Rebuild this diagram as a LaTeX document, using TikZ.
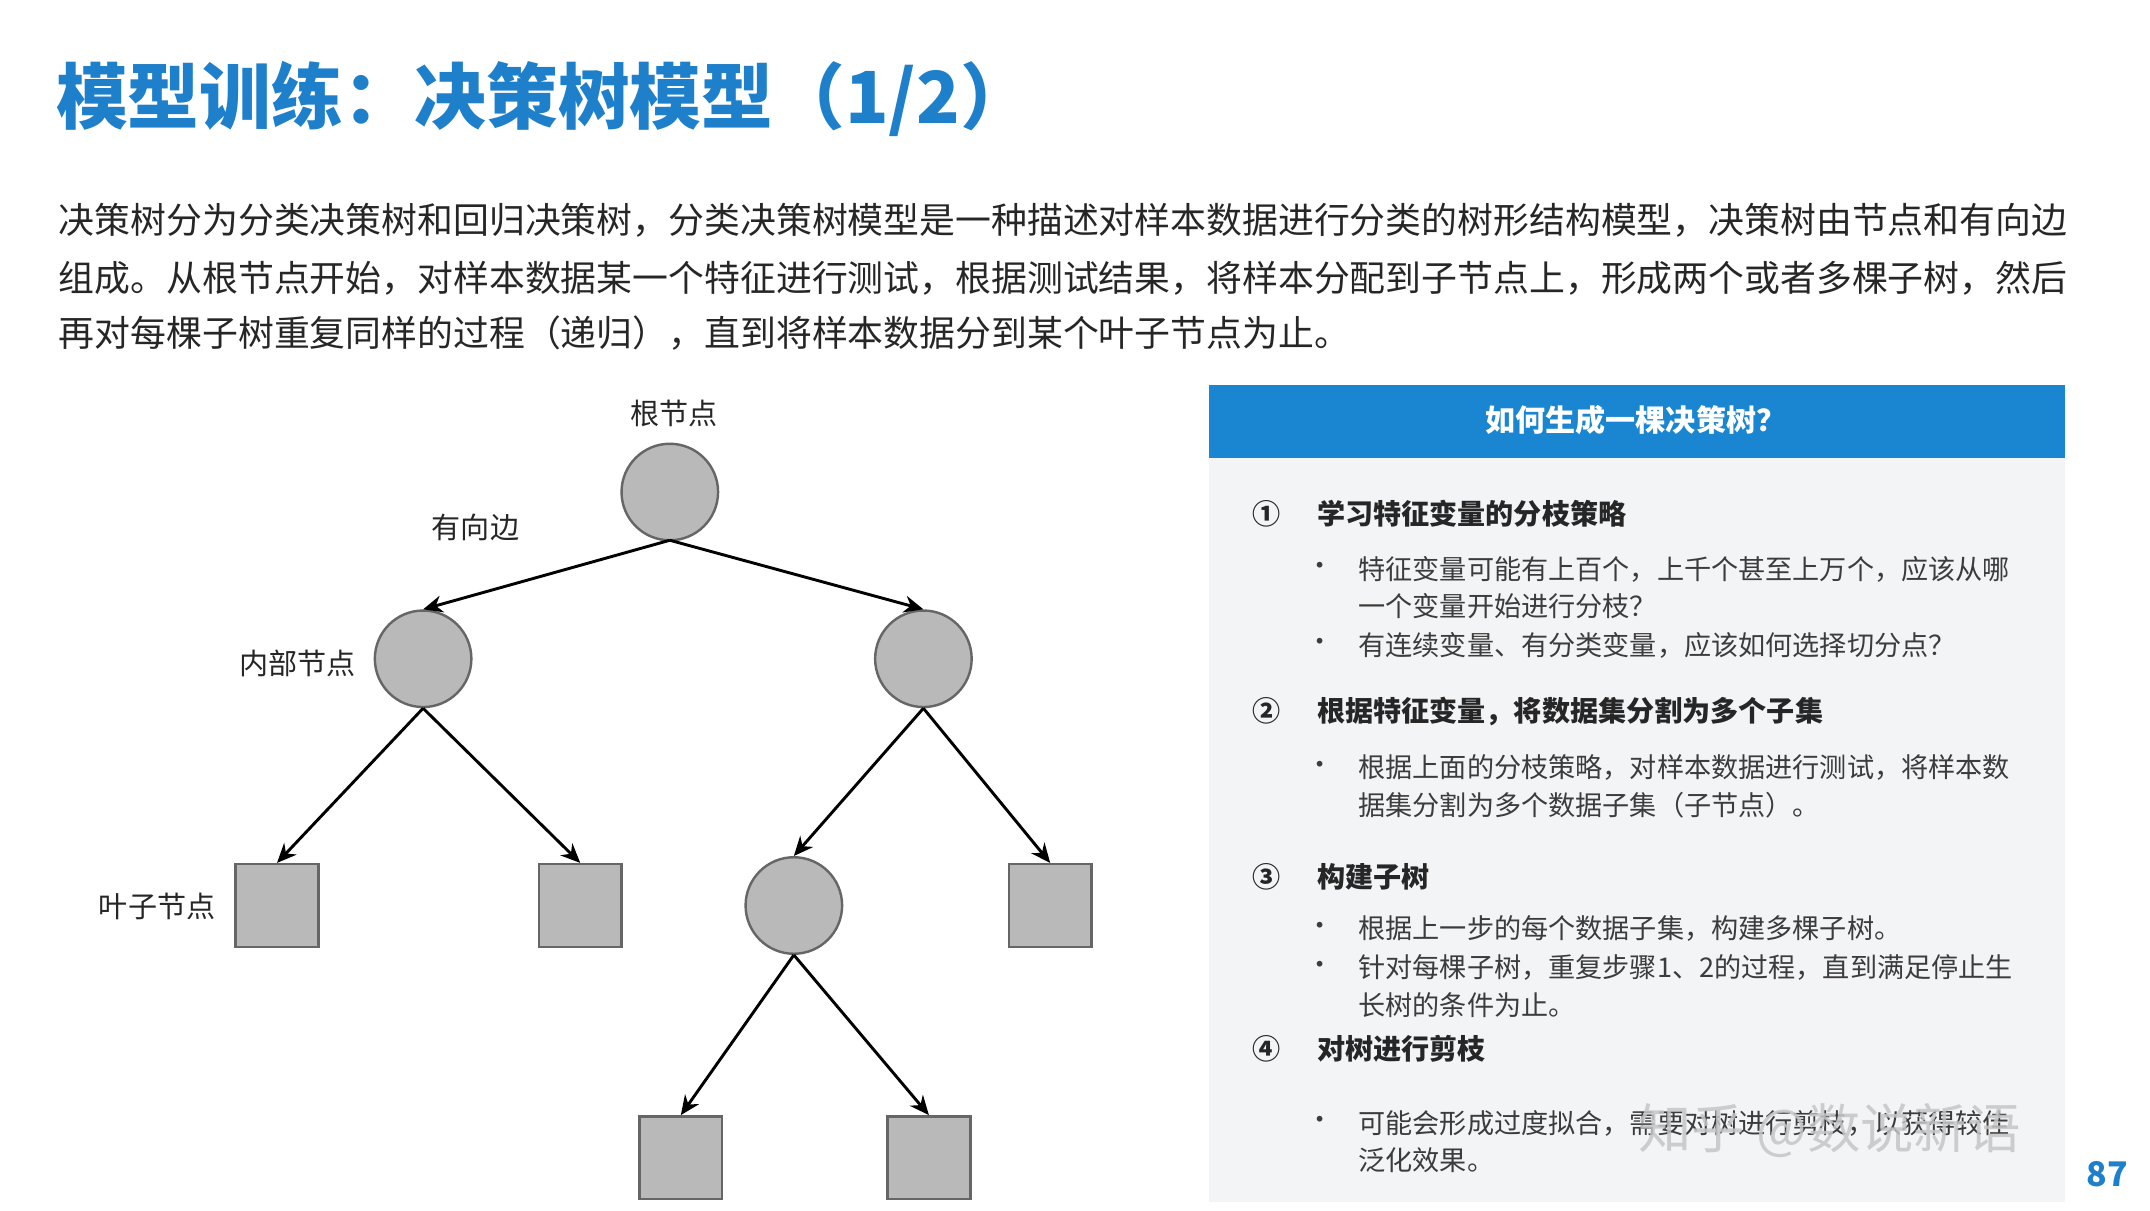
\documentclass[tikz,border=0pt]{standalone}
\usepackage{fontspec}
\setmainfont{Noto Sans CJK SC}
\usetikzlibrary{arrows.meta}
\definecolor{tblue}{HTML}{1E7FCB}
\definecolor{hblue}{HTML}{1A85D0}
\definecolor{panel}{HTML}{F3F4F6}
\definecolor{txt}{HTML}{262626}
\tikzset{
 circ/.style={circle,draw=gray!80!black,fill=gray!55,minimum size=0.7cm,inner sep=0pt,line width=0.5pt},
 sq/.style={rectangle,draw=gray!80!black,fill=gray!55,minimum size=0.6cm,inner sep=0pt,line width=0.5pt},
 edge/.style={-{Stealth[length=4pt,width=3.5pt]},line width=0.6pt,black},
 lab/.style={font=\fontsize{6pt}{7pt}\selectfont,text=txt,inner sep=0pt},
 para/.style={font=\fontsize{7.4pt}{9pt}\selectfont,text=txt,anchor=west,inner sep=0pt},
 head/.style={font=\fontsize{5.8pt}{7pt}\selectfont\bfseries,text=txt,anchor=west,inner sep=0pt},
 body/.style={font=\fontsize{5.6pt}{7pt}\selectfont,text=txt!90,anchor=west,inner sep=0pt},
}
\begin{document}
\begin{tikzpicture}[x=0.01cm,y=-0.01cm]
\useasboundingbox (0,0) rectangle (1560,878);
\fill[white] (0,0) rectangle (1560,878);
\node[anchor=west,inner sep=0pt,text=tblue,font=\fontsize{14.8pt}{16pt}\selectfont\bfseries] (title) at (40,72) {模型训练：决策树模型（1/2）};
\node[para] (p1) at (42,160) {决策树分为分类决策树和回归决策树，分类决策树模型是一种描述对样本数据进行分类的树形结构模型，决策树由节点和有向边};
\node[para] (p2) at (42,202) {组成。从根节点开始，对样本数据某一个特征进行测试，根据测试结果，将样本分配到子节点上，形成两个或者多棵子树，然后};
\node[para] (p3) at (42,242) {再对每棵子树重复同样的过程（递归），直到将样本数据分到某个叶子节点为止。};
% tree
\node[circ] (r) at (486,357) {};
\node[circ] (a) at (307,478) {};
\node[circ] (b) at (670,478) {};
\node[sq] (l1) at (201,657) {};
\node[sq] (l2) at (421,657) {};
\node[circ] (c) at (576,657) {};
\node[sq] (l3) at (762,657) {};
\node[sq] (l4) at (494,840) {};
\node[sq] (l5) at (674,840) {};
\coordinate (rb) at (486,392);
\draw[edge] (rb) -- (a.north);
\draw[edge] (rb) -- (b.north);
\draw[edge] (a.south) -- (l1.north);
\draw[edge] (a.south) -- (l2.north);
\draw[edge] (b.south) -- (c.north);
\draw[edge] (b.south) -- (l3.north);
\draw[edge] (c.south) -- (l4.north);
\draw[edge] (c.south) -- (l5.north);
\node[lab] (t1) at (489,300) {根节点};
\node[lab] (t2) at (345,383) {有向边};
\node[lab] (t3) at (216,481) {内部节点};
\node[lab] (t4) at (114,658) {叶子节点};
% panel
\fill[panel] (877,332) rectangle (1498,872);
\fill[hblue] (877,279) rectangle (1498,332);
\node[text=white,font=\fontsize{6.2pt}{7pt}\selectfont\bfseries] (ph) at (1187,305) {如何生成一棵决策树？};
\node[head] (n1) at (908,373) {①}; \node[head] (h1) at (955,373) {学习特征变量的分枝策略};
\node[body] at (947,413) {•}; \node[body] (b1) at (985,413) {特征变量可能有上百个，上千个甚至上万个，应该从哪};
\node[body] (b1b) at (985,440) {一个变量开始进行分枝？};
\node[body] at (947,468) {•}; \node[body] (b2) at (985,468) {有连续变量、有分类变量，应该如何选择切分点？};
\node[head] (n2) at (908,516) {②}; \node[head] (h2) at (955,516) {根据特征变量，将数据集分割为多个子集};
\node[body] at (947,557) {•}; \node[body] (b3) at (985,557) {根据上面的分枝策略，对样本数据进行测试，将样本数};
\node[body] (b3b) at (985,584) {据集分割为多个数据子集（子节点）。};
\node[head] (n3) at (908,636) {③}; \node[head] (h3) at (955,636) {构建子树};
\node[body] at (947,674) {•}; \node[body] (b4) at (985,674) {根据上一步的每个数据子集，构建多棵子树。};
\node[body] at (947,702) {•}; \node[body] (b5) at (985,702) {针对每棵子树，重复步骤1、2的过程，直到满足停止生};
\node[body] (b5b) at (985,729) {长树的条件为止。};
\node[head] (n4) at (908,761) {④}; \node[head] (h4) at (955,761) {对树进行剪枝};
\node[body] at (947,815) {•}; \node[body] (b6) at (985,815) {可能会形成过度拟合，需要对树进行剪枝，以获得较佳};
\node[body] (b6b) at (985,842) {泛化效果。};
\node[anchor=west,inner sep=0pt,text=gray!45,opacity=0.85,font=\fontsize{11pt}{12pt}\selectfont] (wm) at (1188,820) {知乎 @数说新语};
\node[text=tblue,font=\fontsize{7pt}{8pt}\selectfont\bfseries,inner sep=0pt] (pg) at (1529,852) {87};
\end{tikzpicture}
\end{document}
